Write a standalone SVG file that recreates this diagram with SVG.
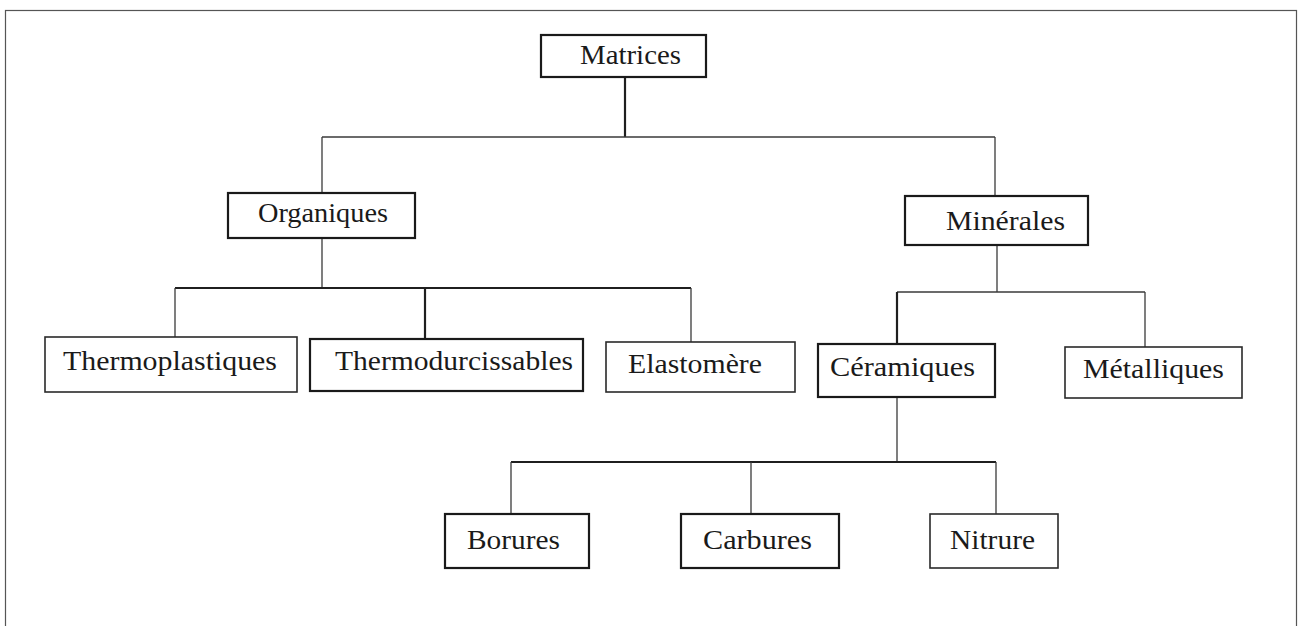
<svg xmlns="http://www.w3.org/2000/svg" width="1303" height="626" viewBox="0 0 1303 626">
  <style>
    .frame { fill: none; stroke: #555; stroke-width: 1.2; }
    .box { fill: #fff; stroke: #2a2a2a; stroke-width: 1.6; }
    .box.heavy { stroke: #1a1a1a; stroke-width: 2.2; }
    .lbl { font-family: "Liberation Serif", "Times New Roman", serif; font-size: 27px; fill: #1a1a1a; }
    .wire { fill: none; stroke: #3a3a3a; stroke-width: 1.3; }
    .wire.heavy { stroke: #1f1f1f; stroke-width: 2.2; }
  </style>

  <rect width="1303" height="626" fill="#fff"/>
  <rect class="frame" x="5.5" y="10.5" width="1291" height="700"/>

  <g id="connectors">
    <!-- Matrices to second level -->
    <path class="wire heavy" d="M625 77 V137"/>
    <path class="wire" d="M322 137 H995"/>
    <path class="wire" d="M322 137 V193"/>
    <path class="wire" d="M995 137 V196"/>
    <!-- Organiques branches -->
    <path class="wire" d="M322 238 V288"/>
    <path class="wire heavy" d="M175 288 H691"/>
    <path class="wire" d="M175 288 V337"/>
    <path class="wire heavy" d="M425 288 V339"/>
    <path class="wire" d="M691 288 V342"/>
    <!-- Minérales branches -->
    <path class="wire" d="M997 245 V292"/>
    <path class="wire" d="M897 292 H1145"/>
    <path class="wire heavy" d="M897 292 V344"/>
    <path class="wire" d="M1145 292 V347"/>
    <!-- Céramiques branches -->
    <path class="wire" d="M897 397 V462"/>
    <path class="wire heavy" d="M511 462 H996"/>
    <path class="wire" d="M511 462 V514"/>
    <path class="wire" d="M751 462 V514"/>
    <path class="wire" d="M996 462 V514"/>
  </g>

  <g id="matrices">
    <rect class="box heavy" x="541" y="35" width="165" height="42"/>
    <text class="lbl" x="580" y="64" textLength="101" lengthAdjust="spacingAndGlyphs">Matrices</text>
  </g>
  <g id="organiques">
    <rect class="box heavy" x="228" y="193" width="187" height="45"/>
    <text class="lbl" x="258" y="222" textLength="130" lengthAdjust="spacingAndGlyphs">Organiques</text>
  </g>
  <g id="minerales">
    <rect class="box heavy" x="905" y="196" width="183" height="49"/>
    <text class="lbl" x="946" y="230" textLength="119" lengthAdjust="spacingAndGlyphs">Minérales</text>
  </g>
  <g id="thermoplastiques">
    <rect class="box" x="45" y="337" width="252" height="55"/>
    <text class="lbl" x="63" y="370" textLength="214" lengthAdjust="spacingAndGlyphs">Thermoplastiques</text>
  </g>
  <g id="thermodurcissables">
    <rect class="box heavy" x="310" y="339" width="273" height="52"/>
    <text class="lbl" x="335" y="370" textLength="238" lengthAdjust="spacingAndGlyphs">Thermodurcissables</text>
  </g>
  <g id="elastomere">
    <rect class="box" x="606" y="342" width="189" height="50"/>
    <text class="lbl" x="628" y="373" textLength="134" lengthAdjust="spacingAndGlyphs">Elastomère</text>
  </g>
  <g id="ceramiques">
    <rect class="box heavy" x="818" y="344" width="177" height="53"/>
    <text class="lbl" x="830" y="376" textLength="145" lengthAdjust="spacingAndGlyphs">Céramiques</text>
  </g>
  <g id="metalliques">
    <rect class="box" x="1065" y="347" width="177" height="51"/>
    <text class="lbl" x="1083" y="378" textLength="141" lengthAdjust="spacingAndGlyphs">Métalliques</text>
  </g>
  <g id="borures">
    <rect class="box heavy" x="445" y="514" width="144" height="54"/>
    <text class="lbl" x="467" y="549" textLength="93" lengthAdjust="spacingAndGlyphs">Borures</text>
  </g>
  <g id="carbures">
    <rect class="box heavy" x="681" y="514" width="158" height="54"/>
    <text class="lbl" x="703" y="549" textLength="109" lengthAdjust="spacingAndGlyphs">Carbures</text>
  </g>
  <g id="nitrure">
    <rect class="box" x="930" y="514" width="128" height="54"/>
    <text class="lbl" x="950" y="549" textLength="85" lengthAdjust="spacingAndGlyphs">Nitrure</text>
  </g>
</svg>
